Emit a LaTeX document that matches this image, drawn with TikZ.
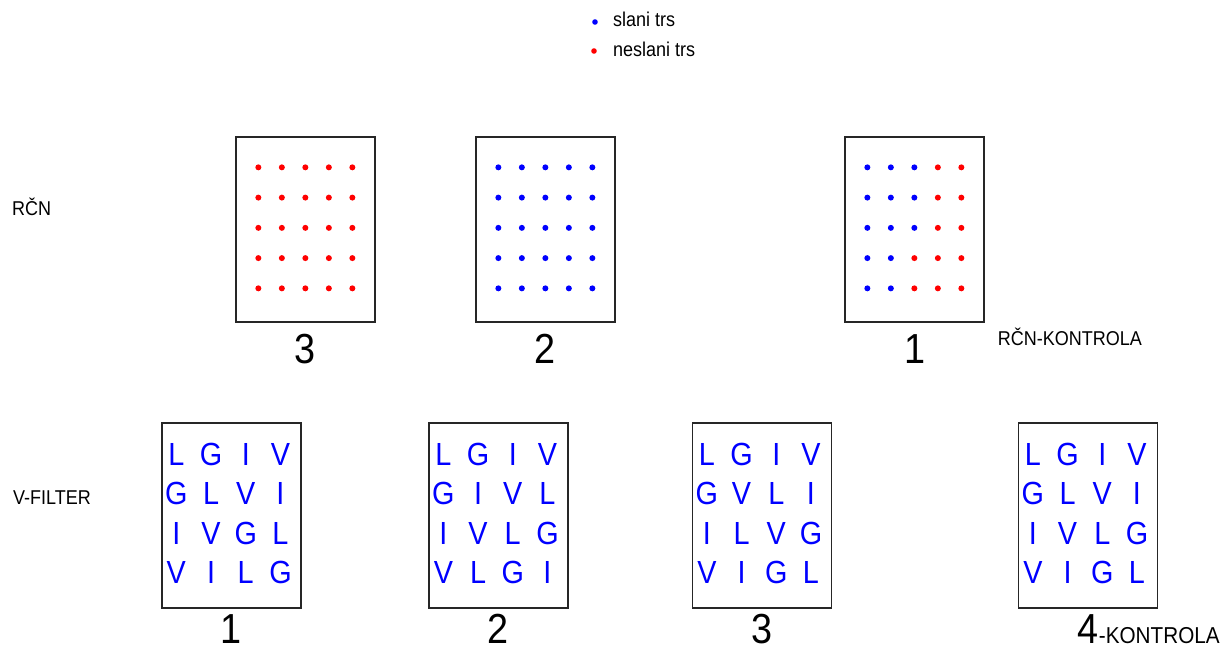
\documentclass[tikz,border=0pt]{standalone}
\usepackage{fontspec}
\setmainfont{Liberation Sans}[FakeStretch=0.9]
\usetikzlibrary{positioning}

\begin{document}
\begin{tikzpicture}[x=1pt, y=-1pt,
    box/.style={draw=black!85, line width=1.3pt, minimum width=139pt, minimum height=185pt, inner sep=0pt},
    lbl/.style={font=\fontsize{20}{24}\selectfont, inner sep=0pt},
    num/.style={font=\fontsize{42}{48}\selectfont, inner sep=0pt, anchor=base},
    slovo/.style={font=\fontsize{32}{36}\selectfont, text=blue, inner sep=0pt}]
    \useasboundingbox (0,0) rectangle (1220,650);

    % legenda
    \node[lbl, anchor=base west] (slani) at (613,27) {slani trs};
    \node[lbl, anchor=base west] (neslani) at (613,57) {neslani trs};
    \fill[blue] ([xshift=-18pt, yshift=5pt]slani.base west) circle (2.8pt);
    \fill[red] ([xshift=-19pt, yshift=6pt]neslani.base west) circle (2.8pt);

    % RCN
    \node[lbl, anchor=base west] (rcn) at (12,215) {RČN};
    \node[box] (r3) at (305.5,229.5) {};
    \node[box] (r2) at (545.5,229.5) {};
    \node[box] (r1) at (914.5,229.5) {};
    \node[num] (nr3) at ([yshift=-41pt]r3.south) {3};
    \node[num] (nr2) at ([yshift=-41pt]r2.south) {2};
    \node[num] (nr1) at ([yshift=-41pt]r1.south) {1};
    \node[lbl, anchor=base west] (rk) at ([xshift=13pt, yshift=-23pt]r1.south east) {RČN-KONTROLA};

    % trsi
    \foreach \b/\c in {r3/red, r2/blue}
      \foreach \i in {0,...,4}
        \foreach \j in {0,...,4}
          \fill[\c] ([shift={(23+23.5*\i,31+30.25*\j)}]\b.north west) circle (3pt);
    % kontrola: modri levo, rdeci desno
    \foreach \j/\nb in {0/3,1/3,2/3,3/2,4/2}
      \foreach \i in {0,...,4} {
        \ifnum\i<\nb \def\barva{blue}\else\def\barva{red}\fi
        \fill[\barva] ([shift={(23+23.5*\i,31+30.25*\j)}]r1.north west) circle (3pt);
      }

    % V-filter
    \node[lbl, anchor=base west] (vf) at (13,504) {V-FILTER};
    \node[box] (v1) at (231.5,515.5) {};
    \node[box] (v2) at (498.5,515.5) {};
    \node[box] (v3) at (762,515.5) {};
    \node[box] (v4) at (1088,515.5) {};
    \node[num] (nv1) at ([yshift=-35pt]v1.south) {1};
    \node[num] (nv2) at ([yshift=-35pt]v2.south) {2};
    \node[num] (nv3) at ([yshift=-35pt]v3.south) {3};
    \node[num] (nv4) at ([yshift=-35pt]v4.south) {4};
    \node[font=\fontsize{23}{28}\selectfont, inner sep=0pt, anchor=base west] (kontrola) at (nv4.base east) {-KONTROLA};

    % crke
    \foreach \b/\rows in {v1/{{L,G,I,V},{G,L,V,I},{I,V,G,L},{V,I,L,G}},
                          v2/{{L,G,I,V},{G,I,V,L},{I,V,L,G},{V,L,G,I}},
                          v3/{{L,G,I,V},{G,V,L,I},{I,L,V,G},{V,I,G,L}},
                          v4/{{L,G,I,V},{G,L,V,I},{I,V,L,G},{V,I,G,L}}}
      \foreach \row [count=\j from 0] in \rows
        \foreach \c [count=\i from 0] in \row
          \node[slovo, anchor=base] (\b-\j-\i) at ([shift={(15+34.7*\i,43+39.5*\j)}]\b.north west) {\c};
\end{tikzpicture}
\end{document}
